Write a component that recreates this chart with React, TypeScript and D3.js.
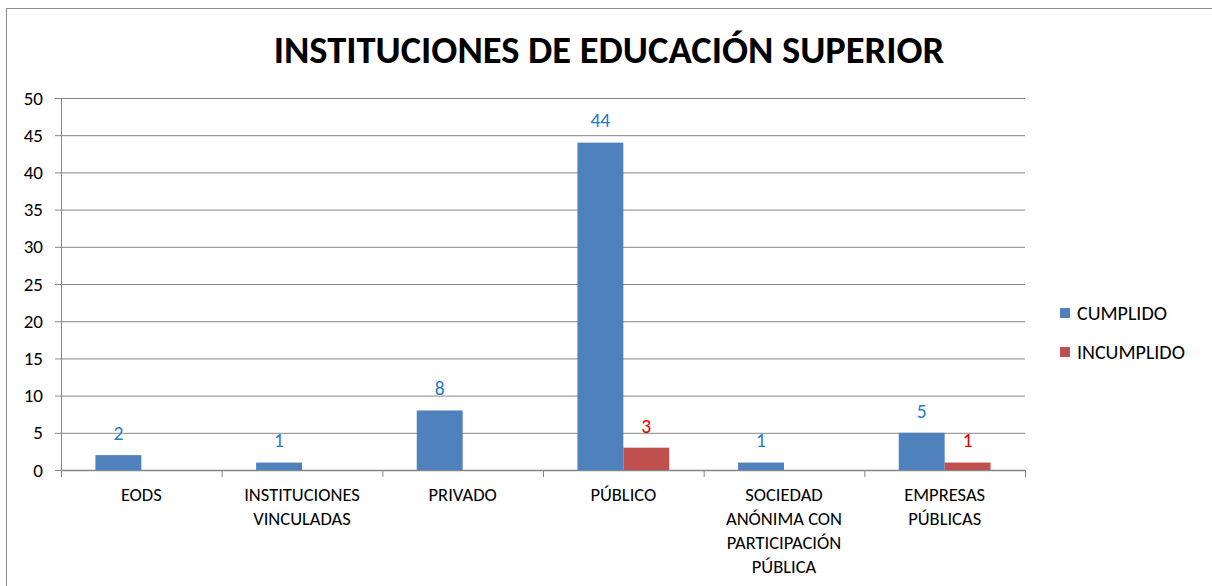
import React from "react";
import * as d3 from "d3";

const categories: string[][] = [
  ["EODS"],
  ["INSTITUCIONES", "VINCULADAS"],
  ["PRIVADO"],
  ["PÚBLICO"],
  ["SOCIEDAD", "ANÓNIMA CON", "PARTICIPACIÓN", "PÚBLICA"],
  ["EMPRESAS", "PÚBLICAS"],
];
const cumplido: (number | null)[] = [2, 1, 8, 44, 1, 5];
const incumplido: (number | null)[] = [null, null, null, 3, null, 1];
const yTicks = [0, 5, 10, 15, 20, 25, 30, 35, 40, 45, 50];
const seriesNames = ["CUMPLIDO", "INCUMPLIDO"];

const W = 1212;
const H = 586;
const FONT = "Carlito, Calibri, Lato, 'Open Sans', sans-serif";

export default function App() {
  const left = 61, right = 1025, top = 98, bottom = 470;
  const x = d3.scaleBand<number>().domain(d3.range(categories.length)).range([left, right]).paddingInner(0).paddingOuter(0);
  const y = d3.scaleLinear().domain([0, 50]).range([bottom, top]);
  const cw = x.bandwidth();
  const bw = cw / 3.5;
  const series = [
    { name: seriesNames[0], values: cumplido, fill: "#4F81BD", label: "#1F7BC8" },
    { name: seriesNames[1], values: incumplido, fill: "#C0504D", label: "#E00000" },
  ];
  return (
    <svg width={W} height={H} style={{ position: "absolute", left: 0, top: 0, background: "#fff" }} fontFamily={FONT}>
      <rect x={6.5} y={8.5} width={W + 20} height={H + 20} fill="#fff" stroke="#8c8c8c" strokeWidth={1} />
      <text x={609} y={63} textAnchor="middle" fontSize={38.5} fontWeight="bold" fill="#000">
        INSTITUCIONES DE EDUCACIÓN SUPERIOR
      </text>
      {yTicks.map((t) => (
        <g key={t}>
          <line x1={left - 6} x2={right} y1={y(t) + 0.5} y2={y(t) + 0.5} stroke="#868686" strokeWidth={1} />
          <text x={43} y={y(t)} dy="0.35em" textAnchor="end" fontSize={19} fill="#000">{t}</text>
        </g>
      ))}
      <line x1={left + 0.5} x2={left + 0.5} y1={top} y2={bottom} stroke="#868686" />
      <line x1={left} x2={right} y1={bottom + 0.5} y2={bottom + 0.5} stroke="#868686" strokeWidth={1.5} />
      {d3.range(categories.length + 1).map((i) => {
        const xx = left + i * cw;
        return <line key={i} x1={xx + 0.5} x2={xx + 0.5} y1={bottom} y2={bottom + 7} stroke="#868686" />;
      })}
      {categories.map((c, i) => {
        const gx = (x(i) as number) + (cw - 2 * bw) / 2;
        return (
          <g key={i}>
            {series.map((s, si) => {
              const v = s.values[i];
              if (v == null) return null;
              const bx = gx + si * bw;
              return (
                <g key={si}>
                  <rect x={bx} y={y(v)} width={bw} height={bottom - y(v)} fill={s.fill} />
                  <text x={bx + bw / 2} y={y(v) - 22} dy="0.35em" textAnchor="middle" fontSize={19.5} fill={s.label}>{v}</text>
                </g>
              );
            })}
            {c.map((ln, li) => (
              <text key={li} x={(x(i) as number) + cw / 2} y={495 + li * 24} dy="0.35em" textAnchor="middle" fontSize={18.5} fill="#000">{ln}</text>
            ))}
          </g>
        );
      })}
      {series.map((s, si) => (
        <g key={si} transform={`translate(1060, ${313 + si * 39})`}>
          <rect x={0} y={-5} width={10} height={10} fill={s.fill} />
          <text x={17} y={0} dy="0.35em" fontSize={20} fill="#000">{s.name}</text>
        </g>
      ))}
    </svg>
  );
}
